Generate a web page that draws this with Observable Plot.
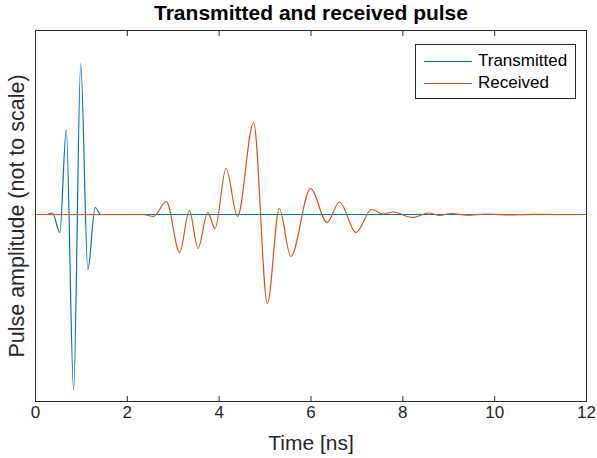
<!DOCTYPE html>
<html>
<head>
<meta charset="utf-8">
<script src="https://cdn.jsdelivr.net/npm/d3@7"></script>
<script src="https://cdn.jsdelivr.net/npm/@observablehq/plot@0.6"></script>
<style>
  html, body { margin: 0; padding: 0; background: #fff; }
  #wrap { position: relative; width: 597px; height: 458px; font-family: "Liberation Sans", Arial, Helvetica, sans-serif; }
  #legend { position: absolute; left: 415px; top: 44px; width: 159px; height: 53px; border: 1px solid #262626; background: #fff; box-sizing: content-box; }
  .row { position: absolute; left: 0; height: 20px; display: flex; align-items: center; font-size: 17px; color: #000; }
  .sw { width: 48px; height: 0; border-top: 1px solid; margin-left: 8px; margin-right: 6px; }
</style>
</head>
<body>
<div id="wrap"></div>
<script>
// Time axis (ns)
const xTicks = [0, 2, 4, 6, 8, 10, 12];
// Transmitted pulse: times of extrema (ns) and amplitudes (arbitrary units)
const txTime = [0, 0.25, 0.37, 0.53, 0.67, 0.83, 0.985, 1.14, 1.30, 1.42, 12];
const txAmp  = [0, 0, 1.5, -18, 85, -176, 151, -55, 7, 0, 0];
// Received pulse: times of extrema (ns) and amplitudes
const rxTime = [0, 2.35, 2.57, 2.85, 3.14, 3.35, 3.54, 3.75, 3.91, 4.15, 4.40, 4.75, 5.05, 5.31, 5.56, 5.99, 6.35, 6.62, 6.98, 7.32, 7.57, 7.79, 8.21, 8.57, 8.80, 9.06, 9.40, 9.80, 10.3, 10.8, 11.3, 12];
const rxAmp  = [0, 0, -2, 13, -38, 4, -34, 2, -14, 46, -2, 92, -89, 6, -42, 26, -8, 12.5, -18, 5, 0.5, 2.5, -3, 1.5, -1, 1, -0.6, 0.5, -0.3, 0.2, 0, 0];
const seriesNames = ["Transmitted", "Received"];
const seriesColors = ["#0072BD", "#D95319"];
const yDomain = [-187, 184];

const tx = txTime.map((t, i) => ({t, v: txAmp[i]}));
const rx = rxTime.map((t, i) => ({t, v: rxAmp[i]}));

const ink = "#262626";
const font = "Liberation Sans, Arial, Helvetica, sans-serif";

const chart = Plot.plot({
  width: 597,
  height: 458,
  marginLeft: 35,
  marginRight: 11,
  marginTop: 30,
  marginBottom: 57,
  style: {fontFamily: font, background: "#fff", color: ink},
  x: {domain: [0, 12], ticks: xTicks},
  y: {domain: yDomain, axis: null},
  marks: [
    Plot.line(tx, {x: "t", y: "v", stroke: seriesColors[0], strokeWidth: 1.2, curve: "monotone-x"}),
    Plot.line(rx, {x: "t", y: "v", stroke: seriesColors[1], strokeWidth: 1.2, curve: "monotone-x"}),
    Plot.frame({stroke: ink, strokeWidth: 1}),
    Plot.axisX(xTicks, {anchor: "bottom", tickSize: -5, text: null, stroke: ink, label: null}),
    Plot.axisX(xTicks, {anchor: "top", tickSize: -5, text: null, stroke: ink, label: null}),
    Plot.axisX(xTicks, {anchor: "bottom", tickSize: 0, tickPadding: 4, fontSize: 17, fill: ink, label: null}),
    Plot.text(["Time [ns]"], {frameAnchor: "bottom", lineAnchor: "middle", dy: 42, fontSize: 21, fill: ink}),
    Plot.text(["Pulse amplitude (not to scale)"], {frameAnchor: "left", textAnchor: "middle", lineAnchor: "middle", dx: -18, rotate: -90, fontSize: 21.5, fill: ink}),
    Plot.text(["Transmitted and received pulse"], {frameAnchor: "top", lineAnchor: "middle", dy: -17, fontSize: 21, fontWeight: "bold", fill: "#000"})
  ]
});

const wrap = document.getElementById("wrap");
wrap.appendChild(chart);
const legend = document.createElement("div");
legend.id = "legend";
seriesNames.forEach((name, i) => {
  const row = document.createElement("div");
  row.className = "row";
  row.style.top = (6 + i * 22) + "px";
  const sw = document.createElement("div");
  sw.className = "sw";
  sw.style.borderColor = seriesColors[i];
  const label = document.createElement("span");
  label.textContent = name;
  row.appendChild(sw);
  row.appendChild(label);
  legend.appendChild(row);
});
wrap.appendChild(legend);
</script>
</body>
</html>
